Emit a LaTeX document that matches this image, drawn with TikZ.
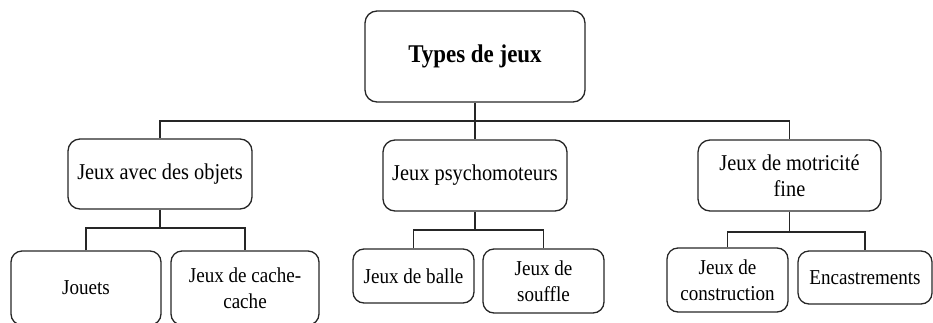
\documentclass[tikz,border=0pt]{standalone}
\usepackage{fontspec}
\setmainfont[FakeStretch=0.9]{Liberation Serif}
\begin{document}
\begin{tikzpicture}[x=1pt,y=-1pt,
  box/.style={draw=black!85, line width=1.3pt, rounded corners=12pt, align=center, inner sep=2pt},
  lvltwo/.style={box, font=\fontsize{22.6}{26.5}\selectfont},
  lvlthree/.style={box, rounded corners=11pt, font=\fontsize{21.2}{25.7}\selectfont},
  link/.style={draw=black!85, line width=1.3pt}]
\useasboundingbox (0,0) rectangle (933,322);
\node[box, minimum width=220pt, minimum height=91pt, font=\fontsize{25.5}{28}\selectfont\bfseries] (top) at (475,56.5) {Types de jeux};
\node[lvltwo, minimum width=184pt, minimum height=70pt] (A) at (160,174) {Jeux avec des objets};
\node[lvltwo, minimum width=184pt, minimum height=71pt] (B) at (475,175.5) {Jeux psychomoteurs};
\node[lvltwo, minimum width=183pt, minimum height=71pt] (C) at (789.5,175.5) {Jeux de motricité\\fine};
\node[lvlthree, minimum width=150pt, minimum height=74pt] (A1) at (86,288) {Jouets};
\node[lvlthree, minimum width=148pt, minimum height=74pt] (A2) at (245,288) {Jeux de cache-\\cache};
\node[lvlthree, minimum width=121pt, minimum height=54pt] (B1) at (413.5,276) {Jeux de balle};
\node[lvlthree, minimum width=121pt, minimum height=64pt] (B2) at (543.5,281) {Jeux de\\souffle};
\node[lvlthree, minimum width=121pt, minimum height=64pt] (C1) at (727.5,280) {Jeux de\\construction};
\node[lvlthree, minimum width=134pt, minimum height=53pt] (C2) at (865,277.5) {Encastrements};
\coordinate (busT) at (0,121);
\coordinate (busA) at (0,228);
\coordinate (busB) at (0,230);
\coordinate (busC) at (0,232);
\draw[link] (top.south) -- (top.south |- busT);
\draw[link] (A.north) |- (busT -| C.north) -- (C.north);
\draw[link] (B.north) -- (B.north |- busT);
\draw[link] (A.south) -- (A.south |- busA);
\draw[link] (A1.north) |- (busA -| A2.north) -- (A2.north);
\draw[link] (B.south) -- (B.south |- busB);
\draw[link] (B1.north) |- (busB -| B2.north) -- (B2.north);
\draw[link] (C.south) -- (C.south |- busC);
\draw[link] (C1.north) |- (busC -| C2.north) -- (C2.north);
\end{tikzpicture}
\end{document}
